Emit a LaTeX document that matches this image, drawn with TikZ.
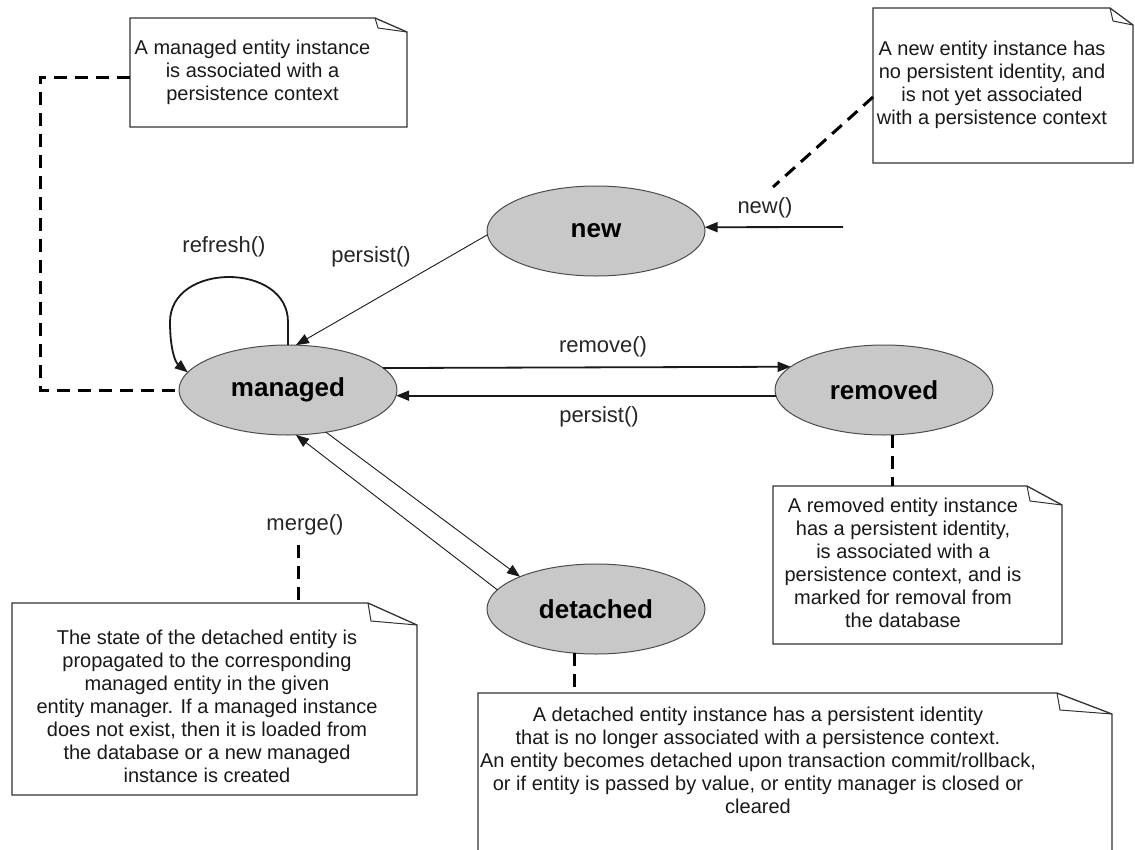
\documentclass[tikz,border=0pt]{standalone}
\usepackage{fontspec}
\setmainfont{Liberation Sans}
\usetikzlibrary{arrows.meta,shapes.geometric,calc}
\definecolor{stategray}{RGB}{200,200,200}
\newcommand{\noteoutline}[3]{%
  \draw[noteline,fill=white] (#1.south west) -- (#1.north west) -- ([xshift=-#2pt]#1.north east) -- ([yshift=-#3pt]#1.north east) -- (#1.south east) -- cycle;
  \draw[noteline,line width=1pt] ([xshift=-#2pt]#1.north east) -- ([xshift=-#2pt+3pt,yshift=-#3pt+4pt]#1.north east) -- ([yshift=-#3pt]#1.north east);
}
\begin{document}
\begin{tikzpicture}[x=1pt,y=-1pt,
  state/.style={ellipse,draw=black!70,line width=1pt,fill=stategray,minimum width=218pt,minimum height=90pt,inner sep=0pt,outer sep=0pt,font=\fontsize{26}{30}\selectfont\bfseries},
  notebox/.style={rectangle,inner sep=0pt,outer sep=0pt},
  notetext/.style={align=center,font=\fontsize{20}{23}\selectfont,text=black!90,inner sep=0pt},
  lbl/.style={font=\fontsize{22}{26}\selectfont,text=black!85,inner sep=0pt},
  heavy/.style={line width=1.8pt,draw=black!90,-{Triangle[length=13pt,width=10pt]}},
  thin/.style={line width=0.9pt,draw=black!90,-{Triangle[length=13pt,width=10pt]}},
  anchorline/.style={line width=3pt,dash pattern=on 13pt off 8pt},
  noteline/.style={line width=1.3pt,draw=black!80,line join=miter},
]
\clip (0,0) rectangle (1135,849);
\fill[white] (0,0) rectangle (1135,849);

% notes
\node[notebox,minimum width=277pt,minimum height=109pt] (tl) at (268.5,72.5) {};
\noteoutline{tl}{32}{14}
\node[notetext] (tltext) at (252.5,72) {A managed entity instance\\is associated with a\\persistence context};

\node[notebox,minimum width=260pt,minimum height=155pt] (tr) at (1003,85.5) {};
\noteoutline{tr}{23}{17}
\node[notetext] (trtext) at (992,85) {A new entity instance has\\no persistent identity, and\\is not yet associated\\with a persistence context};

\node[notebox,minimum width=289pt,minimum height=158pt] (rn) at (917.5,565) {};
\noteoutline{rn}{35}{19}
\node[notetext] (rntext) at (903,563) {A removed entity instance\\has a persistent identity,\\is associated with a\\persistence context, and is\\marked for removal from\\the database};

\node[notebox,minimum width=634pt,minimum height=187pt] (dn) at (795,786.5) {};
\noteoutline{dn}{55}{21}
\node[notetext] (dntext) at (758,760.5) {A detached entity instance has a persistent identity\\that is no longer associated with a persistence context.\\An entity becomes detached upon transaction commit/rollback,\\or if entity is passed by value, or entity manager is closed or\\cleared};

\node[notebox,minimum width=405pt,minimum height=192pt] (ml) at (214.5,699) {};
\noteoutline{ml}{49}{22}
\node[notetext] (mltext) at (207,706) {The state of the detached entity is\\propagated to the corresponding\\managed entity in the given\\entity manager. If a managed instance\\does not exist, then it is loaded from\\the database or a new managed\\instance is created};

% states
\node[state] (managed) at (288,390) {managed};
\node[state] (new) at (596,231) {new};
\node[state] (removed) at (884,390) {removed};
\node[state] (detached) at (596,609) {detached};

% note anchors
\draw[anchorline] ([yshift=-4.5pt]tl.west) -| (40,390) -- (managed.west);
\coordinate (trend) at (773,187);
\draw[anchorline] ([yshift=-11.5pt]tr.west) -- (trend);
\draw[anchorline] (removed.-79) -- (removed.-79 |- rn.north);
\draw[anchorline] (detached.244) -- (detached.244 |- dn.north);
\coordinate (mergeend) at (298,545);
\draw[anchorline] (mergeend) -- (mergeend |- ml.north);

% transitions
\coordinate (newsrc) at (843,227);
\draw[heavy] (newsrc) -- (new.2);
\draw[thin] (new.182) -- (managed.80);
\draw[heavy] (managed.13.7) -- (removed.166.3);
\draw[heavy] (removed.183.2) -- (managed.-3.2);
\draw[thin] (managed.-48) -- (detached.157);
\draw[thin] (detached.169.5) -- (managed.-80);
\draw[heavy] (managed.north) -- (288,322) .. controls (288,262) and (170,262) .. (170,322) .. controls (170,348) and (175,362) .. (managed.170);

% labels
\node[lbl] (lrefresh) at (224,247) {refresh()};
\node[lbl] (lpersist1) at (371,257) {persist()};
\node[lbl] (lnew) at (765,208) {new()};
\node[lbl] (lremove) at (603,347) {remove()};
\node[lbl] (lpersist2) at (599,417) {persist()};
\node[lbl] (lmerge) at (305,525) {merge()};
\end{tikzpicture}
\end{document}
